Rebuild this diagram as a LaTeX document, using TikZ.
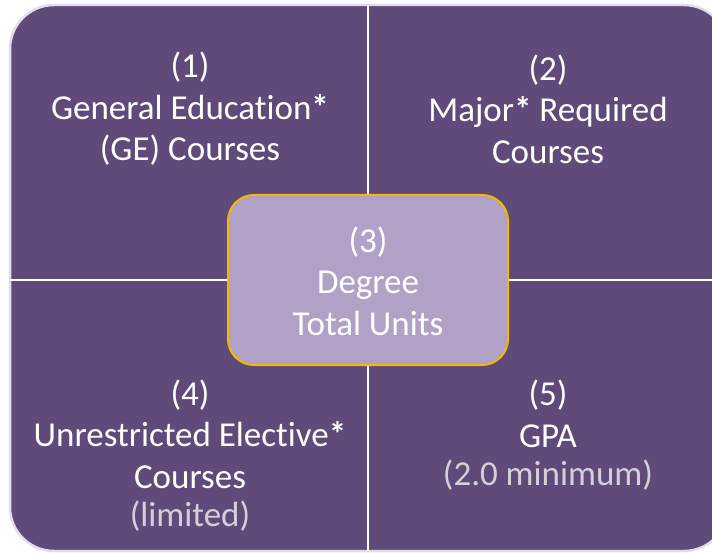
\documentclass[tikz,border=0pt]{standalone}
\usepackage{fontspec}
\setmainfont{Carlito}[Ligatures={NoCommon,NoRare},RawFeature={-calt}]
\definecolor{quad}{HTML}{5F4A7A}
\definecolor{centerfill}{HTML}{B2A1C7}
\definecolor{gold}{HTML}{F8B800}
\definecolor{outline}{HTML}{E2DDEA}
\definecolor{soft}{HTML}{D4D0DA}
\tikzset{
  lbl/.style={text=white, align=center, font=\fontsize{35}{41.5}\selectfont, inner sep=0pt},
  sublbl/.style={text=soft, font=\fontsize{35}{41.5}\selectfont, inner sep=0pt},
  divider/.style={draw=white, line width=2pt},
}
\begin{document}
\begin{tikzpicture}[x=1pt,y=-1pt]
\useasboundingbox (0,0) rectangle (712,553);
\fill[white] (0,0) rectangle (712,553);
% outer matrix shape
\draw[fill=quad, draw=outline, line width=2.5pt, rounded corners=44pt] (10,5) rectangle (728,551);
% dividers
\coordinate (vtop) at (368,5);
\coordinate (vbot) at (368,551);
\coordinate (hleft) at (10,280);
\coordinate (hright) at (728,280);
\draw[divider] (vtop) -- (vbot);
\draw[divider] (hleft) -- (hright);
% quadrant texts
\node[lbl] (q1) at (190,109) {(1)\\General Educat\kern0pt ion\textbf{*}\\(GE) Courses};
\node[lbl] (q2) at (548,109) {(2)\\Major\textbf{*} Required\\Courses};
\node[lbl] (q4) at (190,434) {(4)\\Unrestricted Elect\kern0pt ive\textbf{*}\\Courses};
\node[sublbl] (q4s) at (190,516) {(limited)};
\node[lbl] (q5) at (548,414) {(5)\\GPA};
\node[sublbl] (q5s) at (548,475) {(2.0 minimum)};
% center
\node[draw=gold, line width=2pt, fill=centerfill, rounded corners=26pt,
      minimum width=280pt, minimum height=170pt, inner sep=0pt] (c) at (368,280) {};
\node[lbl] (ct) at (368,281) {(3)\\Degree\\Total Units};
\end{tikzpicture}
\end{document}
